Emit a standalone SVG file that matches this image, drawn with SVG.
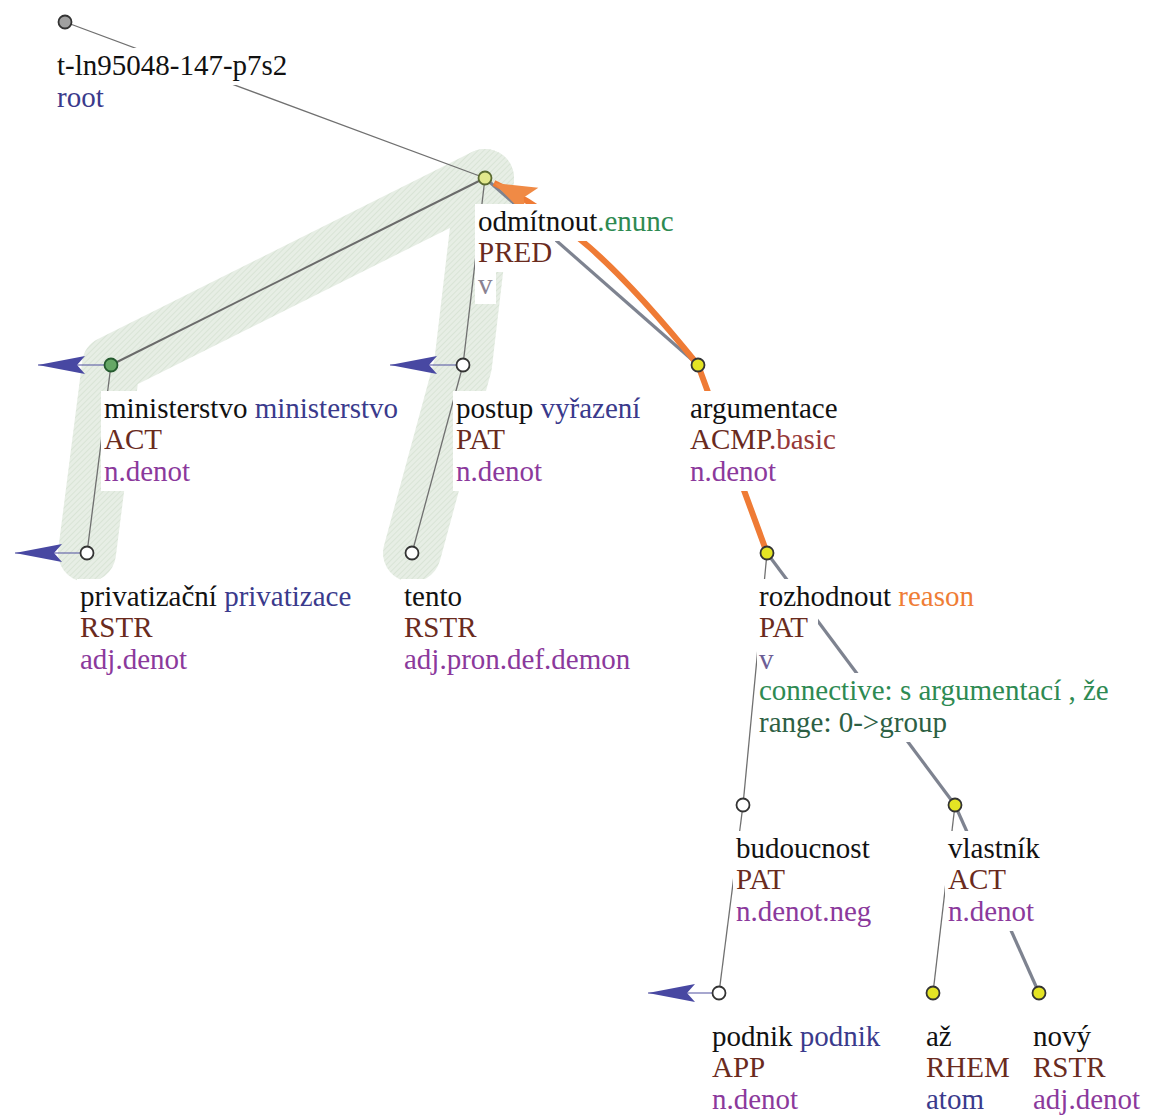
<svg xmlns="http://www.w3.org/2000/svg" width="1149" height="1117" viewBox="0 0 1149 1117">
<style>
text{font-family:"Liberation Serif","Times New Roman",serif;font-size:29px;fill:#111}
.bg{fill:#ffffff}
.nav{fill:#3a3a8c}
.fn{fill:#6a2b1e}
.pu{fill:#8b399c}
.gr{fill:#2e8a52}
.gr2{fill:#2d5f44}
.or{fill:#ef7d35}
.rb{fill:#963838}
.vg{fill:#8a8292}
.vp{fill:#6c5e96}
.thin{stroke:#707070;stroke-width:1.3;fill:none}
.mid{stroke:#6a6a6a;stroke-width:2;fill:none}
.thick{stroke:#7e8390;stroke-width:3.2;fill:none}
.band{fill:none;stroke:url(#hatch);stroke-width:58;stroke-linecap:round;stroke-linejoin:round}
.blue{stroke:#5050a0;stroke-width:1.2;fill:none;marker-end:url(#bluehead)}
.orange{stroke:#ef7b35;stroke-width:6;fill:none}
.nd{stroke:#333;stroke-width:1.8}
.w{fill:#ffffff}
.y{fill:#e4e424}
</style>
<defs>
<pattern id="hatch" patternUnits="userSpaceOnUse" width="4" height="4" patternTransform="rotate(45)">
<rect width="4" height="4" fill="#e7eee5"/>
<line x1="0" y1="0" x2="0" y2="4" stroke="#d9e4d6" stroke-width="2"/>
</pattern>
<marker id="bluehead" markerUnits="userSpaceOnUse" markerWidth="60" markerHeight="30" viewBox="-50 -15 60 30" refX="0" refY="0" orient="auto" overflow="visible">
<polygon points="0,0 -47,-9 -39,0 -47,9" fill="#4848a2"/>
</marker>
<marker id="orangehead" markerUnits="userSpaceOnUse" markerWidth="60" markerHeight="40" viewBox="-50 -20 60 40" refX="0" refY="0" orient="auto" overflow="visible">
<polygon points="0,0 -42,-15 -33,0 -42,15" fill="#f08a45"/>
</marker>
</defs>
<rect width="1149" height="1117" fill="#ffffff"/>
<g id="highlight">
<polyline class="band" points="485,178 111,365 87,553"/>
<polyline class="band" points="485,178 463,365 412,553"/>
</g>
<g id="connectors">
<line class="thin" x1="65" y1="22" x2="485" y2="178"/>
<line class="mid" x1="485" y1="178" x2="111" y2="365"/>
<line class="thin" x1="111" y1="365" x2="87" y2="553"/>
<line class="thin" x1="485" y1="178" x2="463" y2="365"/>
<line class="thin" x1="463" y1="365" x2="412" y2="553"/>
<line class="thick" x1="485" y1="178" x2="698" y2="365"/>
<line class="thick" x1="698" y1="365" x2="767" y2="553"/>
<line class="thin" x1="767" y1="553" x2="743" y2="805"/>
<line class="thick" x1="767" y1="553" x2="955" y2="805"/>
<line class="thin" x1="743" y1="805" x2="719" y2="993"/>
<line class="thin" x1="955" y1="805" x2="933" y2="993"/>
<line class="thick" x1="955" y1="805" x2="1039" y2="993"/>
<path class="orange" d="M767,553 L698,365 C615,262 560,215 494,183" marker-end="url(#orangehead)"/>
<line class="blue" x1="111" y1="365" x2="38" y2="365"/>
<line class="blue" x1="463" y1="365" x2="390" y2="365"/>
<line class="blue" x1="87" y1="553" x2="15" y2="553"/>
<line class="blue" x1="719" y1="993" x2="648" y2="993"/>
</g>
<g id="n-root">
<rect class="bg" x="54" y="48" width="241" height="37"/>
<rect class="bg" x="54" y="80" width="53" height="37"/>
<text x="57" y="75">t-ln95048-147-p7s2</text>
<text x="57" y="107" class="nav">root</text>
<circle class="nd" cx="65" cy="22" r="6.5" fill="#a0a0a0"/>
</g>
<g id="n-odmitnout">
<rect class="bg" x="475" y="204" width="203" height="37"/>
<rect class="bg" x="475" y="235" width="80" height="37"/>
<rect class="bg" x="475" y="267" width="21" height="37"/>
<text x="478" y="231">odmítnout<tspan class="gr">.enunc</tspan></text>
<text x="478" y="262" class="fn">PRED</text>
<text x="478" y="294" class="vg">v</text>
<circle cx="485" cy="178" r="6.5" fill="#e2e88c" stroke="#5a6a30" stroke-width="1.8"/>
</g>
<g id="n-ministerstvo">
<rect class="bg" x="101" y="391" width="302" height="37"/>
<rect class="bg" x="101" y="422" width="64" height="37"/>
<rect class="bg" x="101" y="454" width="92" height="37"/>
<text x="104" y="418">ministerstvo <tspan class="nav">ministerstvo</tspan></text>
<text x="104" y="449" class="fn">ACT</text>
<text x="104" y="481" class="pu">n.denot</text>
<circle cx="111" cy="365" r="6.5" fill="#66a866" stroke="#245a2e" stroke-width="1.8"/>
</g>
<g id="n-postup">
<rect class="bg" x="453" y="391" width="191" height="37"/>
<rect class="bg" x="453" y="422" width="61" height="37"/>
<rect class="bg" x="453" y="454" width="92" height="37"/>
<text x="456" y="418">postup <tspan class="nav">vyřazení</tspan></text>
<text x="456" y="449" class="fn">PAT</text>
<text x="456" y="481" class="pu">n.denot</text>
<circle class="nd w" cx="463" cy="365" r="6.5"/>
</g>
<g id="n-argumentace">
<rect class="bg" x="687" y="391" width="154" height="37"/>
<rect class="bg" x="687" y="422" width="155" height="37"/>
<rect class="bg" x="687" y="454" width="92" height="37"/>
<text x="690" y="418">argumentace</text>
<text x="690" y="449" class="fn">ACMP<tspan class="rb">.basic</tspan></text>
<text x="690" y="481" class="pu">n.denot</text>
<circle class="nd y" cx="698" cy="365" r="6.5"/>
</g>
<g id="n-privatizacni">
<rect class="bg" x="77" y="579" width="277" height="37"/>
<rect class="bg" x="77" y="610" width="79" height="37"/>
<rect class="bg" x="77" y="642" width="113" height="37"/>
<text x="80" y="606">privatizační <tspan class="nav">privatizace</tspan></text>
<text x="80" y="637" class="fn">RSTR</text>
<text x="80" y="669" class="pu">adj.denot</text>
<circle class="nd w" cx="87" cy="553" r="6.5"/>
</g>
<g id="n-tento">
<rect class="bg" x="401" y="579" width="64" height="37"/>
<rect class="bg" x="401" y="610" width="79" height="37"/>
<rect class="bg" x="401" y="642" width="234" height="37"/>
<text x="404" y="606">tento</text>
<text x="404" y="637" class="fn">RSTR</text>
<text x="404" y="669" class="pu">adj.pron.def.demon</text>
<circle class="nd w" cx="412" cy="553" r="6.5"/>
</g>
<g id="n-rozhodnout">
<rect class="bg" x="757" y="579" width="221" height="37"/>
<rect class="bg" x="757" y="610" width="61" height="37"/>
<rect class="bg" x="757" y="642" width="21" height="37"/>
<rect class="bg" x="757" y="673" width="361" height="37"/>
<rect class="bg" x="757" y="705" width="194" height="37"/>
<text x="759" y="606">rozhodnout <tspan class="or">reason</tspan></text>
<text x="759" y="637" class="fn">PAT</text>
<text x="759" y="669" class="vp">v</text>
<text x="759" y="700" class="gr">connective: s argumentací , že</text>
<text x="759" y="732" class="gr2">range: 0-&gt;group</text>
<circle class="nd y" cx="767" cy="553" r="6.5"/>
</g>
<g id="n-budoucnost">
<rect class="bg" x="733" y="831" width="140" height="37"/>
<rect class="bg" x="733" y="862" width="61" height="37"/>
<rect class="bg" x="733" y="894" width="141" height="37"/>
<text x="736" y="858">budoucnost</text>
<text x="736" y="889" class="fn">PAT</text>
<text x="736" y="921" class="pu">n.denot.neg</text>
<circle class="nd w" cx="743" cy="805" r="6.5"/>
</g>
<g id="n-vlastnik">
<rect class="bg" x="945" y="831" width="98" height="37"/>
<rect class="bg" x="945" y="862" width="64" height="37"/>
<rect class="bg" x="945" y="894" width="92" height="37"/>
<text x="948" y="858">vlastník</text>
<text x="948" y="889" class="fn">ACT</text>
<text x="948" y="921" class="pu">n.denot</text>
<circle class="nd y" cx="955" cy="805" r="6.5"/>
</g>
<g id="n-podnik">
<rect class="bg" x="709" y="1019" width="174" height="37"/>
<rect class="bg" x="709" y="1050" width="59" height="37"/>
<rect class="bg" x="709" y="1082" width="92" height="35"/>
<text x="712" y="1046">podnik <tspan class="nav">podnik</tspan></text>
<text x="712" y="1077" class="fn">APP</text>
<text x="712" y="1109" class="pu">n.denot</text>
<circle class="nd w" cx="719" cy="993" r="6.5"/>
</g>
<g id="n-az">
<rect class="bg" x="923" y="1019" width="32" height="37"/>
<rect class="bg" x="923" y="1050" width="90" height="37"/>
<rect class="bg" x="923" y="1082" width="64" height="35"/>
<text x="926" y="1046">až</text>
<text x="926" y="1077" class="fn">RHEM</text>
<text x="926" y="1109" class="nav">atom</text>
<circle class="nd y" cx="933" cy="993" r="6.5"/>
</g>
<g id="n-novy">
<rect class="bg" x="1030" y="1019" width="64" height="37"/>
<rect class="bg" x="1030" y="1050" width="79" height="37"/>
<rect class="bg" x="1030" y="1082" width="113" height="35"/>
<text x="1033" y="1046">nový</text>
<text x="1033" y="1077" class="fn">RSTR</text>
<text x="1033" y="1109" class="pu">adj.denot</text>
<circle class="nd y" cx="1039" cy="993" r="6.5"/>
</g>
</svg>
